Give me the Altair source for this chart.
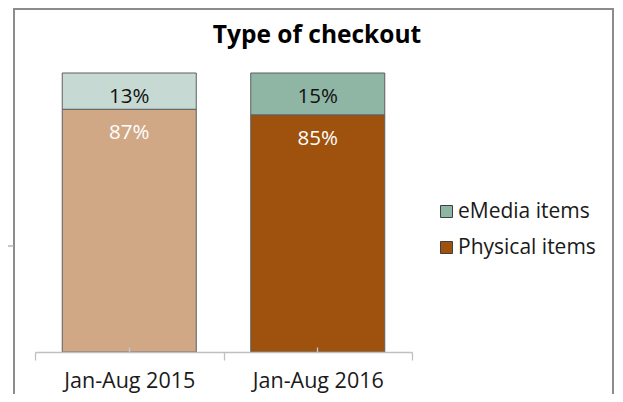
import altair as alt
import pandas as pd

# ---- data ----
periods = ["Jan-Aug 2015", "Jan-Aug 2016"]
types = ["eMedia items", "Physical items"]
emedia = [0.13, 0.15]
physical = [0.87, 0.85]
colors_2015 = ["#C6DAD3", "#D0A886"]   # eMedia, Physical
colors_2016 = ["#8FB5A5", "#9E520E"]   # eMedia, Physical

rows = []
for i, p in enumerate(periods):
    for t, vals, order, tcol in [("Physical items", physical, 0, "#FFFFFF"),
                                  ("eMedia items", emedia, 1, "#111111")]:
        v = vals[i]
        rows.append({"period": p, "type": t, "value": v, "ord": order,
                     "key": p + " | " + t, "label": f"{round(v * 100)}%",
                     "tcolor": tcol})
df = pd.DataFrame(rows)

key_domain = [periods[0] + " | eMedia items", periods[0] + " | Physical items",
              periods[1] + " | eMedia items", periods[1] + " | Physical items"]
key_range = [colors_2015[0], colors_2015[1], colors_2016[0], colors_2016[1]]

FONT = "Open Sans"

base = alt.Chart(df).transform_stack(
    stack="value", as_=["y0", "y1"], groupby=["period"],
    sort=[alt.SortField("ord", order="ascending")]
)

xscale = alt.Scale(domain=periods, paddingInner=0, paddingOuter=0)

bars = base.mark_bar(stroke="#5E5E5E", strokeWidth=1,
                     width=alt.RelativeBandSize(0.711)).encode(
    x=alt.X("period:N", scale=xscale, sort=periods,
            axis=alt.Axis(title=None, labelAngle=0, tickBand="extent",
                          domainColor="#BFBFBF", tickColor="#BFBFBF",
                          tickSize=8, domainWidth=1.3, tickWidth=1.3,
                          labelFont=FONT, labelFontSize=21.5,
                          labelColor="#1A1A1A", labelPadding=10, zindex=1)),
    y=alt.Y("y1:Q", scale=alt.Scale(domain=[0, 1]), axis=None),
    y2="y0:Q",
    color=alt.Color("key:N",
                    scale=alt.Scale(domain=key_domain, range=key_range),
                    legend=alt.Legend(
                        title=None, orient="none", legendX=401, legendY=128,
                        values=[key_domain[2], key_domain[3]],
                        labelExpr="indexof(datum.label, 'eMedia') >= 0 ? 'eMedia items' : 'Physical items'",
                        symbolType="square", symbolSize=144,
                        symbolStrokeColor="#404040", symbolStrokeWidth=1,
                        labelFont=FONT, labelFontSize=21,
                        labelColor="#1A1A1A", labelOffset=1,
                        rowPadding=14)),
)

texts = base.mark_text(font=FONT, fontSize=20.5, baseline="alphabetic",
                       align="center", dy=30).encode(
    x=alt.X("period:N", scale=xscale, sort=periods,
            axis=alt.Axis(title=None, labels=False, domain=False,
                          tickColor="#C8C8C8", tickSize=5, offset=-5,
                          tickWidth=1.3, orient="bottom", zindex=1)),
    y=alt.Y("y1:Q", scale=alt.Scale(domain=[0, 1]), axis=None),
    text="label:N",
    color=alt.Color("tcolor:N", scale=None),
)

dummy = pd.DataFrame({"a": [0]})
frame = alt.Chart(dummy).mark_rect(fill=None, stroke="#8C8C8C", strokeWidth=2).encode(
    x=alt.value(-21), x2=alt.value(578), y=alt.value(-64), y2=alt.value(400)
)
stray = alt.Chart(dummy).mark_rule(color="#A6A6A6", strokeWidth=1.2).encode(
    x=alt.value(-27), x2=alt.value(-21), y=alt.value(173)
)
title = alt.Chart(dummy).mark_text(font=FONT, fontSize=24.5, fontWeight="bold",
                                   baseline="alphabetic", align="center",
                                   color="#000000").encode(
    x=alt.value(282), y=alt.value(-30), text=alt.value("Type of checkout")
)

chart = alt.layer(frame, stray, bars, texts, title).resolve_axis(
    x="independent"
).properties(
    width=377, height=279,
    autosize=alt.AutoSizeParams(type="none"),
    padding={"left": 27, "top": 65, "right": 202, "bottom": 42},
).configure_view(stroke=None)

chart.save("out.html", embed_options={"renderer": "svg", "actions": False})
